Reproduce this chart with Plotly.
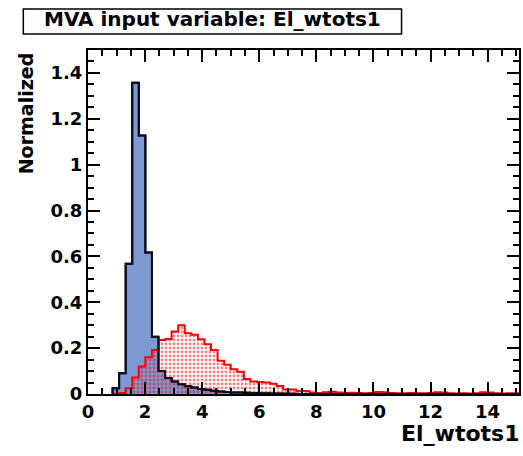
import numpy as np
import plotly.graph_objects as go

# Histogram binning (El_wtots1)
bin_low = 0.86
bin_width = 0.23

# Normalized signal distribution (per bin)
signal = [
    0.025, 0.090, 0.568, 1.357, 1.127, 0.617, 0.250, 0.100, 0.070, 0.055,
    0.042, 0.034, 0.028, 0.022, 0.018, 0.014, 0.011, 0.009, 0.007, 0.006,
    0.005, 0.004, 0.003, 0.003, 0.002, 0.002, 0.001, 0.001, 0.0, 0.0,
    0.0, 0.0, 0.0, 0.0, 0.0, 0.0, 0.0, 0.0, 0.0, 0.0,
    0.0, 0.0, 0.0, 0.0, 0.0, 0.0, 0.0, 0.0, 0.0, 0.0,
    0.0, 0.0, 0.0, 0.0, 0.0, 0.0, 0.0, 0.0, 0.0, 0.0,
    0.0, 0.0,
]

# Normalized background distribution (per bin)
background = [
    0.000, 0.004, 0.025, 0.072, 0.120, 0.160, 0.192, 0.236, 0.240, 0.272,
    0.300, 0.265, 0.258, 0.239, 0.217, 0.192, 0.145, 0.127, 0.108, 0.097,
    0.065, 0.055, 0.052, 0.050, 0.045, 0.035, 0.020, 0.020, 0.013, 0.013,
    0.006, 0.004, 0.008, 0.010, 0.006, 0.004, 0.005, 0.004, 0.003, 0.004,
    0.009, 0.008, 0.004, 0.003, 0.003, 0.004, 0.003, 0.003, 0.004, 0.008,
    0.007, 0.003, 0.002, 0.003, 0.002, 0.003, 0.008, 0.007, 0.003, 0.002,
    0.003, 0.003,
]

x_ticks = [0, 2, 4, 6, 8, 10, 12, 14]
y_ticks = [0, 0.2, 0.4, 0.6, 0.8, 1.0, 1.2, 1.4]

edges = bin_low + bin_width * np.arange(len(signal) + 1)


def step_outline(values):
    """Closed step outline of a histogram (starts and ends on the baseline)."""
    xs = [edges[0]] + list(edges)
    ys = [0.0] + list(values) + [0.0]
    return xs, ys


FONT = "DejaVu Sans"
SIG_FILL = "#7d99d1"
SIG_LINE = "#0b0b1a"
BKG = "#ff0000"

sx, sy = step_outline(signal)
bx, by = step_outline(background)

fig = go.Figure()

# signal: solid blue fill
fig.add_trace(go.Scatter(
    x=sx, y=sy, mode="lines",
    line=dict(shape="hv", color=SIG_LINE, width=2),
    fill="tozeroy", fillcolor=SIG_FILL,
    hoverinfo="skip", showlegend=False,
))

# background: red dotted hatch over whatever lies beneath
fig.add_trace(go.Scatter(
    x=bx, y=by, mode="lines",
    line=dict(shape="hv", color=BKG, width=2),
    fill="tozeroy", fillcolor="rgba(0,0,0,0)",
    fillpattern=dict(shape=".", fgcolor=BKG, bgcolor="rgba(0,0,0,0)",
                     size=4, solidity=0.4),
    hoverinfo="skip", showlegend=False,
))

# signal outline redrawn on top
fig.add_trace(go.Scatter(
    x=sx, y=sy, mode="lines",
    line=dict(shape="hv", color=SIG_LINE, width=2),
    hoverinfo="skip", showlegend=False,
))

L, R, T, B = 88, 2, 50, 62
W, H = 523, 456
pw, ph = W - L - R, H - T - B


def px_x(p):
    return (p - L) / pw


def px_y(p):
    return (H - B - p) / ph


axis_common = dict(
    showgrid=False, zeroline=False,
    showline=True, linecolor="black", linewidth=2, mirror="ticks",
    ticks="inside", ticklen=12, tickwidth=1.5, tickcolor="black",
    tickfont=dict(family=FONT, size=18, color="black", weight="bold"),
)

fig.update_xaxes(
    range=[0, 15.1], tickvals=x_ticks,
    minor=dict(dtick=0.5, tick0=0, ticks="inside", ticklen=6,
               tickwidth=1.5, tickcolor="black", showgrid=False),
    **axis_common,
)
fig.update_yaxes(
    range=[0, 1.5], tickvals=y_ticks,
    minor=dict(dtick=0.05, tick0=0, ticks="inside", ticklen=6,
               tickwidth=1.5, tickcolor="black", showgrid=False),
    **axis_common,
)

fig.update_layout(
    width=W, height=H,
    margin=dict(l=L, r=R, t=T, b=B, pad=0),
    paper_bgcolor="white", plot_bgcolor="white",
    showlegend=False,
    shapes=[
        # title frame
        dict(type="rect", xref="paper", yref="paper",
             x0=px_x(23), x1=px_x(403), y0=px_y(34), y1=px_y(9),
             line=dict(color="black", width=1.5), fillcolor="rgba(0,0,0,0)",
             layer="below"),
    ],
    annotations=[
        dict(text="MVA input variable: El_wtots1",
             xref="paper", yref="paper", x=px_x(213), y=px_y(19),
             xanchor="center", yanchor="middle", showarrow=False,
             font=dict(family=FONT, size=20, color="black", weight="bold")),
        dict(text="Normalized", textangle=-90,
             xref="paper", yref="paper", x=px_x(26), y=1.0,
             xanchor="center", yanchor="top", showarrow=False,
             font=dict(family=FONT, size=19, color="black", weight="bold")),
        dict(text="El_wtots1",
             xref="paper", yref="paper", x=1.0, y=px_y(433),
             xanchor="right", yanchor="middle", xshift=2, showarrow=False,
             font=dict(family=FONT, size=22, color="black", weight="bold")),
    ],
)

fig.write_html("out.html")
